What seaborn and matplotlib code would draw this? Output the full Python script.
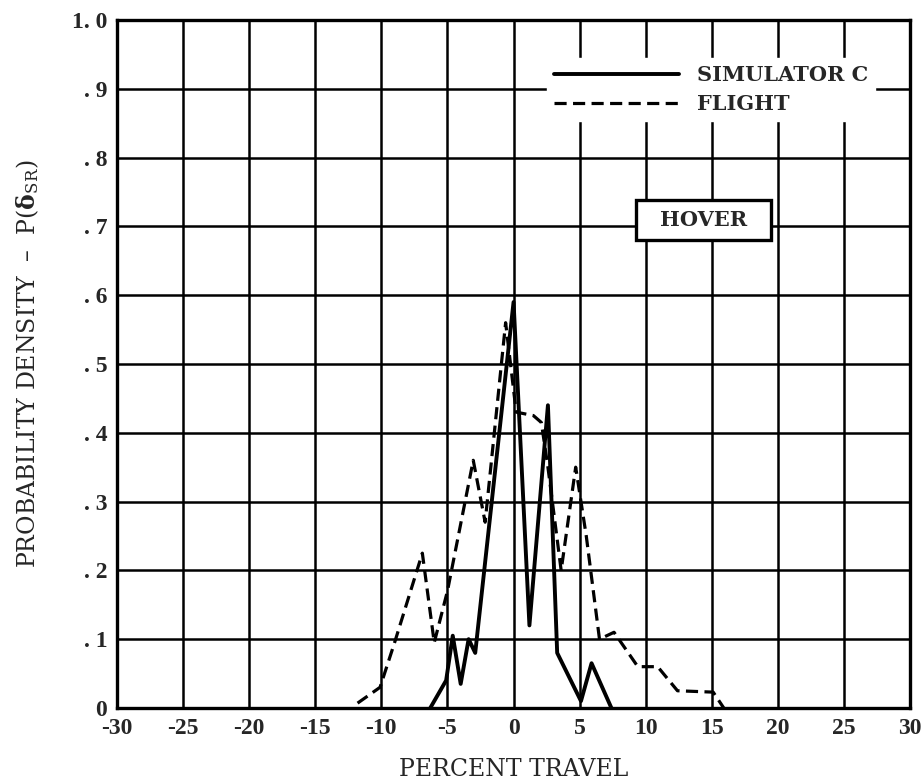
import matplotlib
matplotlib.use("Agg")
import matplotlib.pyplot as plt
from matplotlib.patches import Rectangle
import seaborn as sns
import pandas as pd

# Data
sim_x = [-6.3, -5.1, -4.6, -4.0, -3.4, -2.9, 0.0, 1.2, 2.6, 3.3, 5.1, 5.9, 7.4]
sim_y = [0.0, 0.04, 0.105, 0.035, 0.10, 0.08, 0.59, 0.12, 0.44, 0.08, 0.01, 0.065, 0.0]

flt_x = [-11.8, -10.1, -9.0, -6.9, -6.0, -5.0, -3.05, -2.15, -0.6, 0.2, 1.5, 2.1, 2.6,
         3.2, 3.6, 4.7, 5.5, 6.5, 7.6, 9.4, 10.9, 12.4, 15.1, 15.9]
flt_y = [0.007, 0.03, 0.095, 0.225, 0.095, 0.17, 0.36, 0.27, 0.56, 0.43, 0.425, 0.415, 0.35,
         0.26, 0.20, 0.35, 0.25, 0.10, 0.11, 0.06, 0.06, 0.025, 0.023, 0.0]

x_ticks = [-30, -25, -20, -15, -10, -5, 0, 5, 10, 15, 20, 25, 30]
x_labels = ["-30", "-25", "-20", "-15", "-10", "-5", "0", "5", "10", "15", "20", "25", "30"]
y_ticks = [0, 0.1, 0.2, 0.3, 0.4, 0.5, 0.6, 0.7, 0.8, 0.9, 1.0]
y_labels = ["0", ". 1", ". 2", ". 3", ". 4", ". 5", ". 6", ". 7", ". 8", ". 9", "1. 0"]

sns.set_theme(style="white")
plt.rcParams['font.family'] = ['DejaVu Serif']
plt.rcParams['mathtext.fontset'] = 'dejavuserif'

df_sim = pd.DataFrame({"x": sim_x, "y": sim_y})
df_flt = pd.DataFrame({"x": flt_x, "y": flt_y})

fig = plt.figure(figsize=(9.24, 7.84), dpi=100)
ax = fig.add_axes([0.1266, 0.097, 0.8584, 0.8775])

ax.set_xlim(-30, 30)
ax.set_ylim(0, 1.0)
ax.set_xticks(x_ticks)
ax.set_yticks(y_ticks)
ax.grid(True, color="black", linewidth=1.8, zorder=0)
ax.set_axisbelow(True)

sns.lineplot(data=df_sim, x="x", y="y", ax=ax, color="black", linewidth=2.8,
             sort=False, estimator=None, label="SIMULATOR C", zorder=3)
sns.lineplot(data=df_flt, x="x", y="y", ax=ax, color="black", linewidth=2.3,
             sort=False, estimator=None, label="FLIGHT", zorder=3)
ax.lines[-1].set_dashes([3.8, 2.0])

ax.set_xticklabels(x_labels, fontsize=17, fontweight="bold", family="Liberation Serif")
ax.set_yticklabels(y_labels, fontsize=17, fontweight="bold", family="Liberation Serif")
ax.tick_params(axis="both", length=0, pad=7)

for s in ax.spines.values():
    s.set_color("black")
    s.set_linewidth(2.4)

ax.set_xlabel("PERCENT TRAVEL", fontsize=17, labelpad=14)
ax.set_ylabel(r"PROBABILITY DENSITY  –  P($\mathbf{\delta}_{\mathrm{SR}}$)", fontsize=17, labelpad=22)

leg = ax.legend(loc="upper left", bbox_to_anchor=(0.542, 0.945), frameon=True,
                borderaxespad=0.0, prop={"family": "DejaVu Serif", "weight": "bold", "size": 15},
                handlelength=6.0, handletextpad=0.85, borderpad=0.35,
                labelspacing=0.42)
leg.get_frame().set_facecolor("white")
leg.get_frame().set_edgecolor("white")
leg.get_frame().set_alpha(1.0)
leg.get_frame().set_boxstyle("square", pad=0.0)
leg.get_lines()[1].set_dashes([3.8, 2.0])

ax.add_patch(Rectangle((9.3, 0.68), 10.2, 0.058, facecolor="white", edgecolor="black",
                       linewidth=2.4, zorder=4))
ax.text(14.4, 0.709, "HOVER", fontsize=15, fontweight="bold", ha="center", va="center",
        zorder=5)

fig.savefig("out.png", dpi=100)
